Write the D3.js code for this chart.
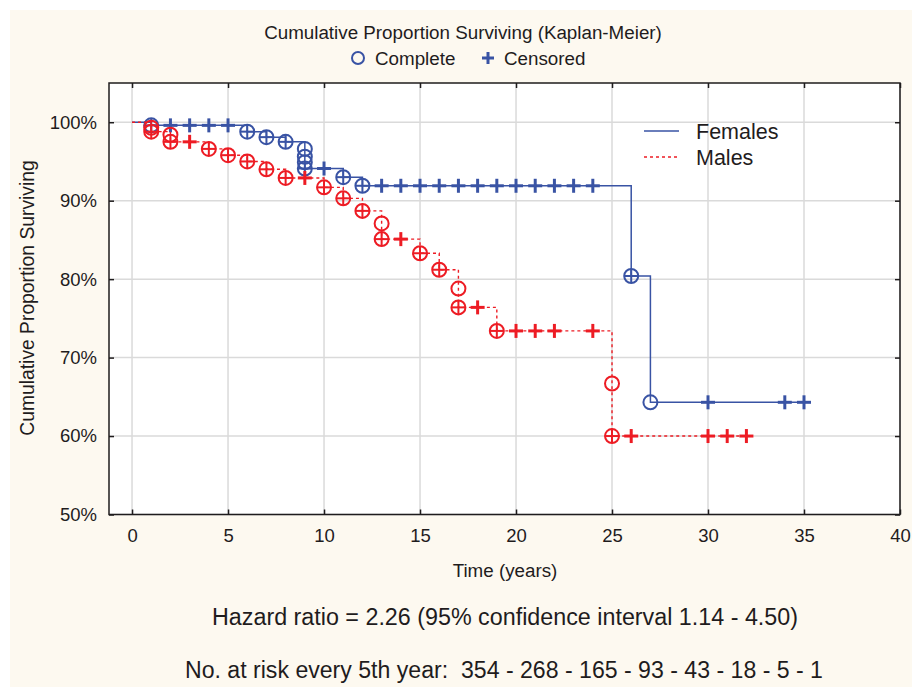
<!DOCTYPE html>
<html>
<head>
<meta charset="utf-8">
<script src="https://cdn.jsdelivr.net/npm/d3@7"></script>
<style>
  body { margin: 0; background: #fff; }
  svg { display: block; font-family: "Liberation Sans", Arial, sans-serif; }
</style>
</head>
<body>
<svg width="912" height="687"></svg>
<script>
// Tick values
const xTicks = [0, 5, 10, 15, 20, 25, 30, 35, 40];
const yTicks = [50, 60, 70, 80, 90, 100];

// Females: event (complete) times and survival after each event
const femaleEventTimes = [1, 6, 7, 8, 9, 9, 9, 9, 11, 12, 26, 27];
const femaleEventSurv = [99.6, 98.8, 98.1, 97.5, 96.6, 95.6, 94.9, 94.1, 93.0, 91.9, 80.4, 64.3];
const femaleCensorTimes = [1, 2, 3, 4, 5, 6, 7, 8, 9, 10, 11, 12, 13, 14, 15, 16, 17, 18, 19, 20, 21, 22, 23, 24, 26, 30, 34, 35];
const femaleEnd = 35;

// Males
const maleEventTimes = [1, 1, 2, 2, 4, 5, 6, 7, 8, 10, 11, 12, 13, 13, 15, 16, 17, 17, 19, 25, 25];
const maleEventSurv = [99.3, 98.8, 98.4, 97.5, 96.6, 95.8, 95.0, 94.0, 92.9, 91.7, 90.3, 88.7, 87.1, 85.1, 83.3, 81.2, 78.8, 76.4, 73.4, 66.7, 60.0];
const maleCensorTimes = [1, 2, 3, 4, 5, 6, 7, 8, 9, 10, 11, 12, 13, 14, 15, 16, 17, 18, 19, 20, 21, 22, 24, 25, 26, 30, 31, 32];
const maleEnd = 32;

const blue = "#3953a4";
const red = "#ed1c24";
const ink = "#1f1c1d";

const svg = d3.select("svg");
const plotL = 109, plotR = 900, plotT = 83, plotB = 514.5;

// cream background
svg.append("rect").attr("x", 10).attr("y", 10).attr("width", 902).attr("height", 677).attr("fill", "#fdf9f0");
svg.append("rect").attr("x", plotL).attr("y", plotT).attr("width", plotR - plotL).attr("height", plotB - plotT).attr("fill", "#fff");

const x = d3.scaleLinear().domain([-1.2, 40]).range([plotL, plotR]);
const y = d3.scaleLinear().domain([50, 105]).range([plotB, plotT]);

// Grid
const grid = svg.append("g");
grid.selectAll(".gx").data(xTicks).enter().append("line")
    .attr("x1", d => x(d)).attr("x2", d => x(d)).attr("y1", plotT).attr("y2", plotB)
    .attr("stroke", "#dadada").attr("stroke-width", 1.5);
grid.selectAll(".gy").data(yTicks).enter().append("line")
    .attr("y1", d => y(d)).attr("y2", d => y(d)).attr("x1", plotL).attr("x2", plotR)
    .attr("stroke", "#dadada").attr("stroke-width", 1.5);

// Axes (inward ticks)
function styleAxis(g) {
    g.select(".domain").remove();
    g.selectAll(".tick line").attr("stroke", ink).attr("stroke-width", 1.5);
    g.selectAll("text").attr("fill", ink).style("font-size", "18.5px");
}
svg.append("g").attr("transform", `translate(0,${plotB})`)
   .call(d3.axisBottom(x).tickValues(xTicks).tickSize(-5).tickPadding(14))
   .call(styleAxis);
svg.append("g").attr("transform", `translate(0,${plotT})`)
   .call(d3.axisTop(x).tickValues(xTicks).tickSize(-5).tickFormat(""))
   .call(styleAxis);
svg.append("g").attr("transform", `translate(${plotL},0)`)
   .call(d3.axisLeft(y).tickValues(yTicks).tickSize(-5).tickPadding(12).tickFormat(d => d + "%"))
   .call(styleAxis);
svg.append("g").attr("transform", `translate(${plotR},0)`)
   .call(d3.axisRight(y).tickValues(yTicks).tickSize(-5).tickFormat(""))
   .call(styleAxis);

// Frame
svg.append("rect").attr("x", plotL).attr("y", plotT).attr("width", plotR - plotL).attr("height", plotB - plotT)
   .attr("fill", "none").attr("stroke", ink).attr("stroke-width", 1.5);

// Survival curves
function survAt(times, surv, t) {
    let s = 100;
    times.forEach((tt, i) => { if (tt <= t) s = surv[i]; });
    return s;
}

function drawSeries(times, surv, censor, end, color, dash) {
    const pts = [[0, 100]].concat(times.map((t, i) => [t, surv[i]]));
    pts.push([end, surv[surv.length - 1]]);
    svg.append("path").datum(pts)
       .attr("fill", "none").attr("stroke", color)
       .attr("stroke-width", dash ? 1.4 : 1.5)
       .attr("stroke-dasharray", dash ? "3,3" : null)
       .attr("d", d3.line().x(d => x(d[0])).y(d => y(d[1])).curve(d3.curveStepAfter));

    const g = svg.append("g");
    // complete (circles)
    g.selectAll("circle").data(times.map((t, i) => [t, surv[i]])).enter().append("circle")
     .attr("cx", d => x(d[0])).attr("cy", d => y(d[1])).attr("r", 7)
     .attr("fill", "none").attr("stroke", color).attr("stroke-width", 2);
    // censored (plus)
    const cens = censor.map(t => [t, survAt(times, surv, t)]);
    const hasEvent = t => times.includes(t);
    const plus = g.selectAll(".plus").data(cens).enter().append("g")
        .attr("transform", d => `translate(${x(d[0])},${y(d[1])})`);
    plus.append("line").attr("x1", -7).attr("x2", 7).attr("y1", 0).attr("y2", 0)
        .attr("stroke", color).attr("stroke-width", d => hasEvent(d[0]) ? 2 : 3);
    plus.append("line").attr("y1", -7).attr("y2", 7).attr("x1", 0).attr("x2", 0)
        .attr("stroke", color).attr("stroke-width", d => hasEvent(d[0]) ? 2 : 3);
}

drawSeries(femaleEventTimes, femaleEventSurv, femaleCensorTimes, femaleEnd, blue, false);
drawSeries(maleEventTimes, maleEventSurv, maleCensorTimes, maleEnd, red, true);

// Legend inside plot
svg.append("line").attr("x1", 644).attr("x2", 679).attr("y1", 131).attr("y2", 131)
   .attr("stroke", blue).attr("stroke-width", 1.5);
svg.append("line").attr("x1", 644).attr("x2", 679).attr("y1", 157).attr("y2", 157)
   .attr("stroke", red).attr("stroke-width", 1.4).attr("stroke-dasharray", "3,3");
svg.append("text").attr("x", 696).attr("y", 139).attr("fill", ink).style("font-size", "21.5px").text("Females");
svg.append("text").attr("x", 696).attr("y", 165).attr("fill", ink).style("font-size", "21.5px").text("Males");

// Title and top legend
svg.append("text").attr("x", 463).attr("y", 39).attr("text-anchor", "middle").attr("fill", ink)
   .style("font-size", "18.8px").text("Cumulative Proportion Surviving (Kaplan-Meier)");
svg.append("circle").attr("cx", 358).attr("cy", 58).attr("r", 6)
   .attr("fill", "none").attr("stroke", blue).attr("stroke-width", 2);
svg.append("text").attr("x", 375).attr("y", 65).attr("fill", ink).style("font-size", "18.8px").text("Complete");
svg.append("line").attr("x1", 482).attr("x2", 494).attr("y1", 58).attr("y2", 58).attr("stroke", blue).attr("stroke-width", 3);
svg.append("line").attr("x1", 488).attr("x2", 488).attr("y1", 52).attr("y2", 64).attr("stroke", blue).attr("stroke-width", 3);
svg.append("text").attr("x", 504).attr("y", 65).attr("fill", ink).style("font-size", "18.8px").text("Censored");

// Axis titles
svg.append("text").attr("x", 505).attr("y", 577).attr("text-anchor", "middle").attr("fill", ink)
   .style("font-size", "18.8px").text("Time (years)");
svg.append("text").attr("transform", "translate(34,298) rotate(-90)").attr("text-anchor", "middle").attr("fill", ink)
   .style("font-size", "19.3px").text("Cumulative Proportion Surviving");

// Notes
svg.append("text").attr("x", 505).attr("y", 625).attr("text-anchor", "middle").attr("fill", ink)
   .style("font-size", "23.3px").text("Hazard ratio = 2.26 (95% confidence interval 1.14 - 4.50)");
svg.append("text").attr("x", 504).attr("y", 678).attr("text-anchor", "middle").attr("fill", ink)
   .style("font-size", "23.1px").style("white-space", "pre").attr("xml:space", "preserve")
   .text("No. at risk every 5th year:  354 - 268 - 165 - 93 - 43 - 18 - 5 - 1");
</script>
</body>
</html>
